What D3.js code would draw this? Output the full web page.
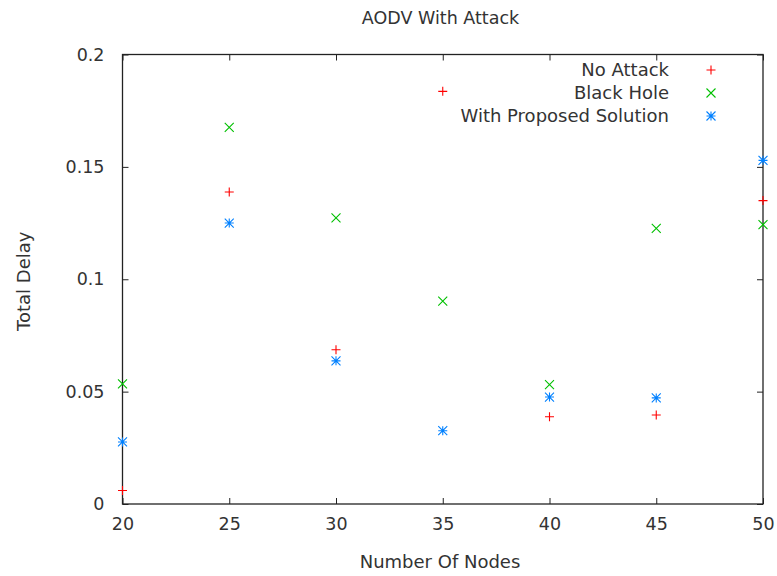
<!DOCTYPE html>
<html>
<head>
<meta charset="utf-8">
<script src="https://cdn.jsdelivr.net/npm/d3@7"></script>
<style>
  body { margin: 0; background: #fff; }
  svg text { font-family: "DejaVu Sans", sans-serif; fill: #333; }
</style>
</head>
<body>
<svg id="chart" width="777" height="576"></svg>
<script>
// number of nodes
var nodes = [20, 25, 30, 35, 40, 45, 50];

// total delay per series
var noAttack = [0.006, 0.1388, 0.0686, 0.1836, 0.0388, 0.0396, 0.1350];
var blackHole = [0.0534, 0.1676, 0.1273, 0.0903, 0.0531, 0.1226, 0.1243];
var proposed = [0.0276, 0.1250, 0.0637, 0.0326, 0.0476, 0.0472, 0.1529];

var xTicks = [20, 25, 30, 35, 40, 45, 50];
var yTicks = [0, 0.05, 0.1, 0.15, 0.2];

var series = [
  { name: 'No Attack', values: noAttack, color: '#ff0000', shape: 'plus' },
  { name: 'Black Hole', values: blackHole, color: '#00c000', shape: 'cross' },
  { name: 'With Proposed Solution', values: proposed, color: '#0080ff', shape: 'star' }
];

var margin = { left: 122.5, right: 14, top: 54.5, bottom: 72 };
var width = 777, height = 576;

var svg = d3.select('#chart');

var x = d3.scaleLinear().domain([20, 50]).range([margin.left, width - margin.right]);
var y = d3.scaleLinear().domain([0, 0.2]).range([height - margin.bottom, margin.top]);

// marker paths, centred on 0,0
function markerPath(shape) {
  var r = 4.5;
  var p = 'M' + (-r) + ',0H' + r + 'M0,' + (-r) + 'V' + r;
  var c = 'M' + (-r) + ',' + (-r) + 'L' + r + ',' + r + 'M' + (-r) + ',' + r + 'L' + r + ',' + (-r);
  if (shape === 'plus') return p;
  if (shape === 'cross') return c;
  return p + c;
}

// axes (ticks inward, mirrored on all sides)
var tickLen = 6;
svg.append('g')
    .attr('transform', 'translate(0,' + y(0) + ')')
    .call(d3.axisBottom(x).tickValues(xTicks).tickSizeInner(-tickLen).tickSizeOuter(0).tickPadding(14))
    .call(function(g) { g.select('.domain').remove(); });
svg.append('g')
    .attr('transform', 'translate(0,' + y(0.2) + ')')
    .call(d3.axisTop(x).tickValues(xTicks).tickSizeInner(-tickLen).tickSizeOuter(0).tickFormat(''))
    .call(function(g) { g.select('.domain').remove(); });
svg.append('g')
    .attr('transform', 'translate(' + x(20) + ',0)')
    .call(d3.axisLeft(y).tickValues(yTicks).tickSizeInner(-tickLen).tickSizeOuter(0).tickPadding(18).tickFormat(d3.format('')))
    .call(function(g) { g.select('.domain').remove(); });
svg.append('g')
    .attr('transform', 'translate(' + x(50) + ',0)')
    .call(d3.axisRight(y).tickValues(yTicks).tickSizeInner(-tickLen).tickSizeOuter(0).tickFormat(''))
    .call(function(g) { g.select('.domain').remove(); });

svg.selectAll('.tick line').attr('stroke', '#222');
svg.selectAll('.tick text')
    .style('font-size', '17.5px')
    .style('font-family', '"DejaVu Sans", sans-serif')
    .attr('fill', '#333');

svg.append('rect')
    .attr('x', x(20))
    .attr('y', y(0.2))
    .attr('width', x(50) - x(20))
    .attr('height', y(0) - y(0.2))
    .attr('fill', 'none')
    .attr('stroke', '#222')
    .attr('stroke-width', 1.3);

// points
series.forEach(function(s) {
  svg.append('g').selectAll('path')
      .data(s.values)
    .enter().append('path')
      .attr('transform', function(d, i) {
        return 'translate(' + x(nodes[i]) + ',' + y(d) + ')';
      })
      .attr('d', markerPath(s.shape))
      .attr('stroke', s.color)
      .attr('stroke-width', 1.1)
      .attr('fill', 'none');
});

// legend
var legend = svg.append('g');
series.forEach(function(s, i) {
  var ly = 70 + i * 23;
  legend.append('text')
      .attr('x', 669)
      .attr('y', ly)
      .attr('dy', '0.35em')
      .attr('text-anchor', 'end')
      .style('font-size', '18px')
      .text(s.name);
  legend.append('path')
      .attr('transform', 'translate(711,' + ly + ')')
      .attr('d', markerPath(s.shape))
      .attr('stroke', s.color)
      .attr('stroke-width', 1.1)
      .attr('fill', 'none');
});

// titles
svg.append('text')
    .attr('x', 440.5)
    .attr('y', 24)
    .attr('text-anchor', 'middle')
    .style('font-size', '17.5px')
    .text('AODV With Attack');

svg.append('text')
    .attr('x', 440)
    .attr('y', 568)
    .attr('text-anchor', 'middle')
    .style('font-size', '18px')
    .text('Number Of Nodes');

svg.append('text')
    .attr('transform', 'translate(30,' + (y(0.1) + 2) + ') rotate(-90)')
    .attr('text-anchor', 'middle')
    .style('font-size', '18px')
    .text('Total Delay');
</script>
</body>
</html>
